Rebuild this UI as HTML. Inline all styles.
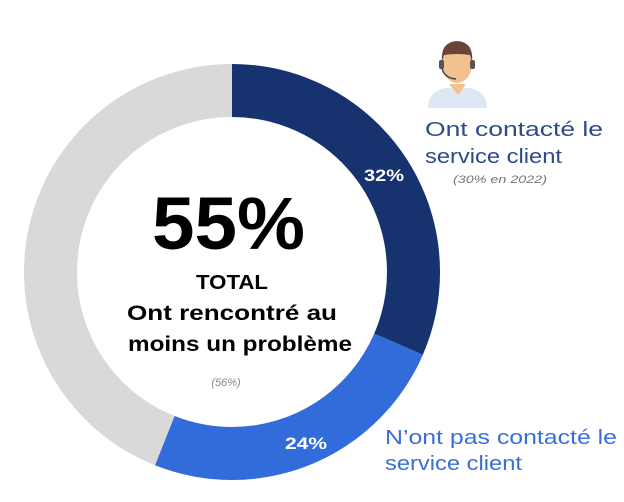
<!DOCTYPE html>
<html><head><meta charset="utf-8"><style>
body{margin:0;width:624px;height:497px;background:#fff;overflow:hidden;font-family:"Liberation Sans",sans-serif}
</style></head><body>
<svg width="624" height="497" xmlns="http://www.w3.org/2000/svg">
<g transform="rotate(-90 232 272)">
<circle cx="232" cy="272" r="181.5" fill="none" stroke="#d9d9d9" stroke-width="53"/>
<circle cx="232" cy="272" r="181.5" fill="none" stroke="#17336f" stroke-width="53" stroke-dasharray="359.2 2000"/>
<circle cx="232" cy="272" r="181.5" fill="none" stroke="#326cdb" stroke-width="53" stroke-dasharray="0 359.2 279.5 2000"/>
</g>
<text x="364" y="181" fill="#fff" font-weight="bold" font-size="17" textLength="40" lengthAdjust="spacingAndGlyphs">32%</text>
<text x="285" y="449" fill="#fff" font-weight="bold" font-size="17" textLength="42" lengthAdjust="spacingAndGlyphs">24%</text>
<text x="152" y="249" font-size="74" font-weight="bold" fill="#000" textLength="153" lengthAdjust="spacingAndGlyphs">55%</text>
<text x="196" y="289" font-size="20" font-weight="bold" textLength="72" lengthAdjust="spacingAndGlyphs">TOTAL</text>
<text x="127" y="320" font-size="21" font-weight="bold" textLength="210" lengthAdjust="spacingAndGlyphs">Ont rencontré au</text>
<text x="128" y="351" font-size="21" font-weight="bold" textLength="224" lengthAdjust="spacingAndGlyphs">moins un problème</text>
<text x="226" y="386" font-size="11" font-style="italic" fill="#888" text-anchor="middle">(56%)</text>
<text x="425" y="136" font-size="20" fill="#2e4a8b" textLength="178" lengthAdjust="spacingAndGlyphs">Ont contacté le</text>
<text x="425" y="163" font-size="20" fill="#2e4a8b" textLength="137" lengthAdjust="spacingAndGlyphs">service client</text>
<text x="453" y="183" font-size="11" font-style="italic" fill="#777" textLength="94" lengthAdjust="spacingAndGlyphs">(30% en 2022)</text>
<text x="385" y="444" font-size="20" fill="#3a6fd8" textLength="232" lengthAdjust="spacingAndGlyphs">N’ont pas contacté le</text>
<text x="385" y="470" font-size="20" fill="#3a6fd8" textLength="137" lengthAdjust="spacingAndGlyphs">service client</text>
<path d="M428 108 Q428 92 445 88 L470 88 Q487 92 487 108 Z" fill="#dde6f3"/>
<path d="M449 84 L466 84 L458 95 Z" fill="#f1c28f"/>
<ellipse cx="457" cy="64" rx="15" ry="19" fill="#f1c28f"/>
<path d="M442 62 Q440 42 457 41 Q474 42 472 62 L470 55 Q457 53 444 55 Z" fill="#6b4438"/>
<rect x="439" y="60" width="5" height="9" rx="2" fill="#555"/>
<rect x="470" y="60" width="5" height="9" rx="2" fill="#555"/>
<path d="M442 68 Q444 78 456 79" stroke="#444" stroke-width="1.5" fill="none"/>
</svg>
</body></html>
